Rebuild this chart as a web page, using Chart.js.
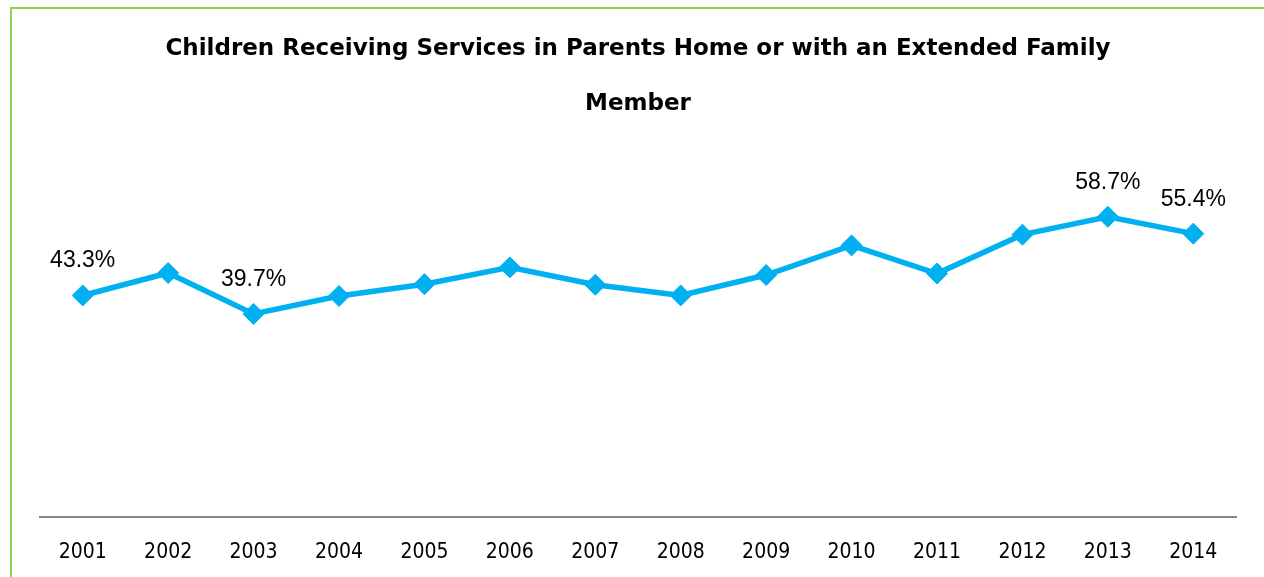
<!DOCTYPE html>
<html>
<head>
<meta charset="utf-8">
<script src="https://cdn.jsdelivr.net/npm/chart.js@4/dist/chart.umd.min.js"></script>
<style>
  html, body { margin: 0; padding: 0; background: #ffffff; }
  #wrap { position: relative; width: 1264px; height: 577px; }
</style>
</head>
<body>
<div id="wrap"><canvas id="chart" width="1264" height="577"></canvas></div>
<script>
// Share of children served in a parent's home or with extended family (%)
const years = ['2001', '2002', '2003', '2004', '2005', '2006', '2007',
               '2008', '2009', '2010', '2011', '2012', '2013', '2014'];
const shares = [43.3, 47.7, 39.7, 43.2, 45.5, 48.8, 45.4,
                43.3, 47.3, 53.1, 47.6, 55.2, 58.7, 55.4];
// Years whose value is printed above the point
const labelledYears = ['2001', '2003', '2013', '2014'];

const titleLines = ['Children Receiving Services in Parents Home or with an Extended Family', 'Member'];

const LINE_BLUE = '#00B0F0';

// Thin green frame around the figure
const framePlugin = {
  id: 'frame',
  beforeDraw(chart) {
    const ctx = chart.ctx;
    ctx.save();
    ctx.strokeStyle = '#92D050';
    ctx.lineWidth = 2;
    ctx.strokeRect(11, 8, 1400, 700);
    ctx.restore();
  }
};

// Percent labels above selected points
const valueLabels = {
  id: 'valueLabels',
  afterDatasetsDraw(chart) {
    const ctx = chart.ctx;
    const meta = chart.getDatasetMeta(0);
    ctx.save();
    ctx.font = '23px "Liberation Sans", Arial, sans-serif';
    ctx.fillStyle = '#000000';
    ctx.textAlign = 'center';
    ctx.textBaseline = 'alphabetic';
    years.forEach((yr, i) => {
      if (!labelledYears.includes(yr)) return;
      const pt = meta.data[i];
      ctx.fillText(shares[i].toFixed(1) + '%', pt.x, pt.y - 28);
    });
    ctx.restore();
  }
};

new Chart(document.getElementById('chart'), {
  type: 'line',
  data: {
    labels: years,
    datasets: [{
      data: shares,
      borderColor: LINE_BLUE,
      backgroundColor: LINE_BLUE,
      borderWidth: 5.5,
      pointStyle: 'rectRot',
      pointRadius: 10.5,
      pointBorderWidth: 1,
      pointBackgroundColor: LINE_BLUE,
      pointBorderColor: LINE_BLUE,
      tension: 0
    }]
  },
  options: {
    responsive: false,
    animation: false,
    devicePixelRatio: 1,
    layout: { autoPadding: false, padding: { left: 40, right: 28, top: 0, bottom: -11 } },
    plugins: {
      legend: { display: false },
      tooltip: { enabled: false },
      title: {
        display: true,
        text: titleLines,
        color: '#000000',
        font: { family: '"DejaVu Sans", sans-serif', weight: 'bold', size: 23, lineHeight: 55 / 23 },
        padding: { top: 22, bottom: 27 }
      }
    },
    scales: {
      x: {
        offset: true,
        grid: { display: false, drawTicks: false },
        border: { display: true, color: '#868686', width: 2 },
        ticks: {
          color: '#000000',
          padding: 23,
          maxRotation: 0,
          autoSkip: false,
          font: { family: '"Liberation Sans Narrow", "DejaVu Sans Condensed", "Liberation Sans", sans-serif', size: 21 }
        }
      },
      y: {
        display: false,
        min: 0,
        max: 70
      }
    }
  },
  plugins: [framePlugin, valueLabels]
});
</script>
</body>
</html>
